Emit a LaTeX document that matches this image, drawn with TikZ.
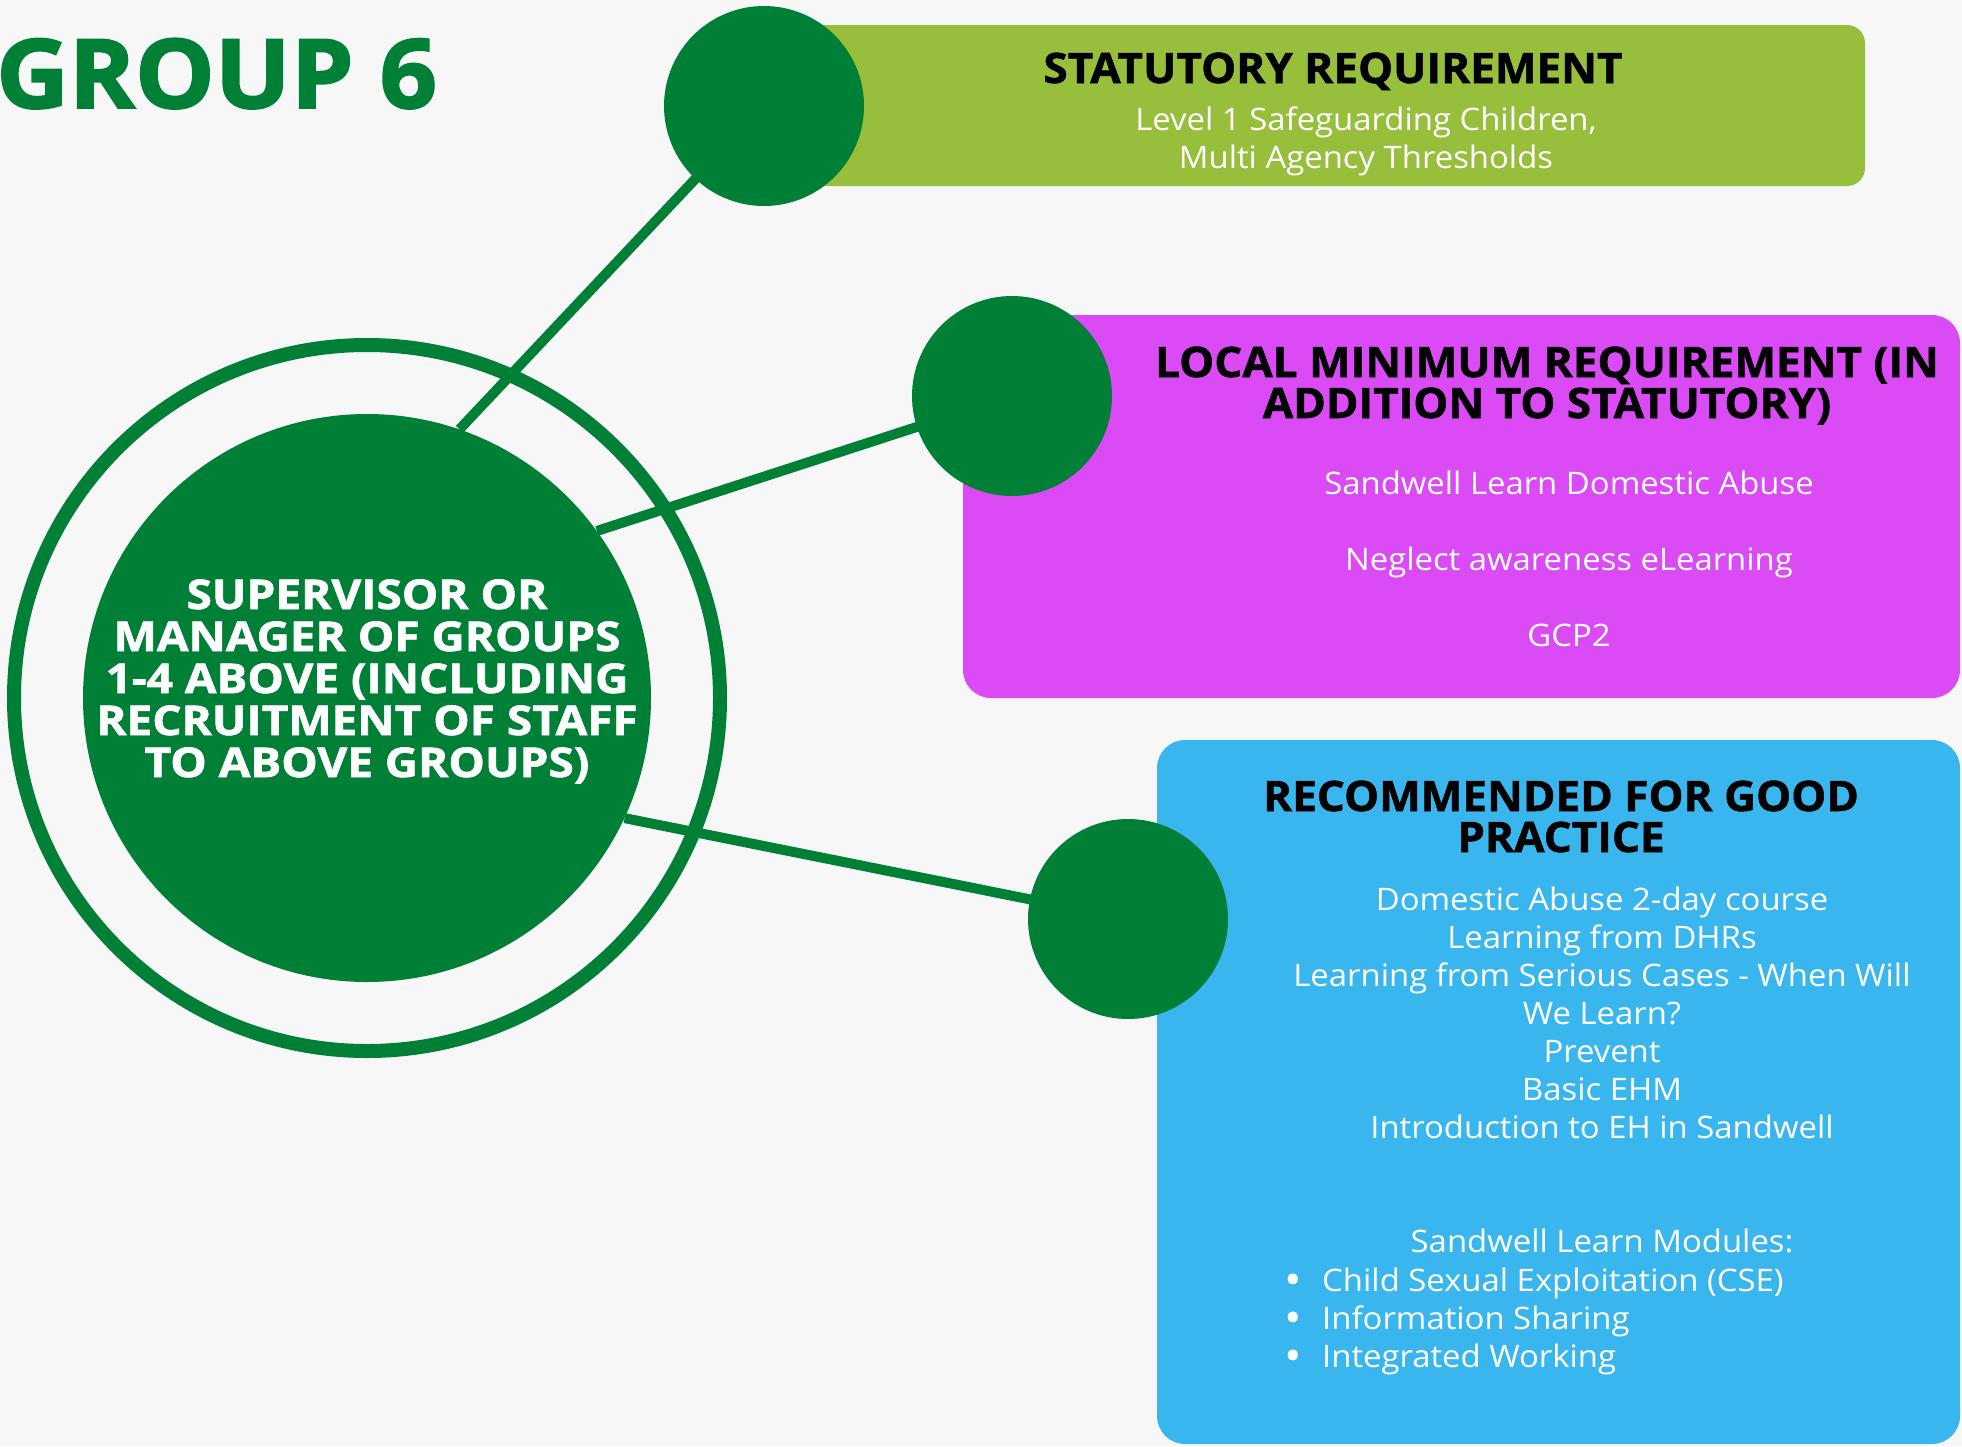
\documentclass[tikz,border=0pt]{standalone}
\usepackage{fontspec}
\setmainfont{Open Sans}[FakeStretch=1.06]
\newfontfamily\headfont{Open Sans}[FakeStretch=1.05, BoldFeatures={FakeBold=1.2}]
\newfontfamily\hubfont{Open Sans}[FakeStretch=1.12, BoldFeatures={FakeBold=1.5}]
\newfontfamily\bigfont{Open Sans}[FakeStretch=1.045, BoldFeatures={FakeBold=2}]
\definecolor{dkgreen}{HTML}{008037}
\definecolor{ltgreen}{HTML}{97BF3C}
\definecolor{magbox}{HTML}{DA4AF5}
\definecolor{bluebox}{HTML}{3AB6EF}
\definecolor{pagebg}{HTML}{F7F7F7}
\pgfdeclarelayer{bg}
\pgfdeclarelayer{lines}
\pgfsetlayers{bg,lines,main}
\newcommand{\bul}{\makebox[37pt][l]{\hspace{-1pt}\smash{\raisebox{-4pt}{\fontsize{44}{38}\selectfont •}}}}
\begin{document}
\begin{tikzpicture}[x=1pt,y=-1pt,
  panel/.style={anchor=north west, inner sep=0pt, outer sep=0pt, draw=none},
  dot/.style={circle, fill=dkgreen, inner sep=0pt, outer sep=0pt, minimum size=200pt},
  conn/.style={draw=dkgreen, line width=10pt},
  ttl/.style={font=\headfont\bfseries\fontsize{42}{41}\selectfont, text=black, align=center, anchor=base, inner sep=0pt},
  body/.style={font=\fontsize{31}{38}\selectfont, text=white, align=center, anchor=base, inner sep=0pt}]
\begin{pgfonlayer}{bg}
\path[fill=pagebg] (0,0) rectangle (1962,1446);
\node[panel, fill=ltgreen, rounded corners=18pt, minimum width=1114pt, minimum height=161pt] (statbox) at (751,25) {};
\node[panel, fill=magbox, rounded corners=28pt, minimum width=997pt, minimum height=383pt] (localbox) at (963,315) {};
\node[panel, fill=bluebox, rounded corners=28pt, minimum width=803pt, minimum height=704pt] (recbox) at (1157,740) {};
\end{pgfonlayer}
\useasboundingbox (0,0) rectangle (1962,1446);

% title
\node[font=\bigfont\bfseries\fontsize{96}{96}\selectfont, text=dkgreen, anchor=base west, inner sep=0pt] (grouptitle) at (-4,108) {GROUP 6};

% hub
\node[circle, draw=dkgreen, line width=14pt, inner sep=0pt, minimum size=706pt] (ring) at (367,698) {};
\node[circle, fill=dkgreen, inner sep=0pt, minimum size=568pt] (hub) at (367,698) {};
\node[font=\hubfont\bfseries\fontsize{41}{42}\selectfont, text=white, align=center, anchor=base, inner sep=0pt] (hubtext) at (367,777)
  {SUPERVISOR OR\\MANAGER OF GROUPS\\1-4 ABOVE (INCLUDING\\RECRUITMENT OF STAFF\\TO ABOVE GROUPS)};

% small circles
\node[dot] (c1) at (764,106) {};
\node[dot] (c2) at (1012,396) {};
\node[dot] (c3) at (1128,919) {};

\begin{pgfonlayer}{lines}
\draw[conn] (hub.71) -- (c1.center);
\draw[conn] (hub.36) -- (c2.center);
\draw[conn] (hub.-25) -- (c3.center);
\end{pgfonlayer}

% statutory
\node[ttl] (stattitle) at (1333,83) {STATUTORY REQUIREMENT};
\node[body] (stattext) at (1366,168) {Level 1 Safeguarding Children,\\Multi Agency Thresholds};

% local
\node[ttl] (localtitle) at (1547,418) {LOCAL MINIMUM REQUIREMENT (IN\\ADDITION TO STATUTORY)};
\node[body] (localtext) at (1569,646) {Sandwell Learn Domestic Abuse\\[38pt]Neglect awareness eLearning\\[38pt]GCP2};

% recommended
\node[ttl] (rectitle) at (1561,852) {RECOMMENDED FOR GOOD\\PRACTICE};
\node[body] (rectext) at (1602,1252) {Domestic Abuse 2-day course\\Learning from DHRs\\Learning from Serious Cases - When Will\\We Learn?\\Prevent\\Basic EHM\\Introduction to EH in Sandwell\\[76pt]Sandwell Learn Modules:};
\node[body, align=left, anchor=base west] (reclist) at (1285,1367)
  {\bul Child Sexual Exploitation (CSE)\\\bul Information Sharing\\\bul Integrated Working};
\end{tikzpicture}
\end{document}
